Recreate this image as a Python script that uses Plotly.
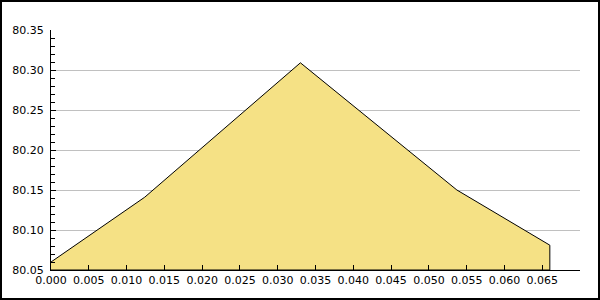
import plotly.graph_objects as go

x_vals = [0.0, 0.0124, 0.033, 0.0537, 0.066]
y_vals = [80.06, 80.141, 80.309, 80.15, 80.081]
x_range = [0.0, 0.06999]
y_range = [80.05, 80.35]

W, H = 600, 300
ML, MR, MT, MB = 51, 20, 30, 30
PW, PH = W - ML - MR, H - MT - MB

# closed polygon (area down to the x axis)
x_poly = x_vals + [x_vals[-1], x_vals[0]]
y_poly = y_vals + [y_range[0], y_range[0]]

fig = go.Figure()
fig.add_trace(go.Scatter(
    x=x_poly, y=y_poly, mode="lines", fill="toself",
    fillcolor="#F5E185", line=dict(color="black", width=1),
    hoverinfo="skip", showlegend=False,
))

font = dict(family="DejaVu Sans", size=11, color="black")
fig.update_layout(
    width=W, height=H,
    margin=dict(l=ML, r=MR, t=MT, b=MB, pad=0, autoexpand=False),
    paper_bgcolor="white", plot_bgcolor="white",
    font=font, showlegend=False,
    xaxis=dict(
        range=x_range, tick0=0, dtick=0.005, tickformat=".3f", automargin=False,
        showgrid=False, zeroline=False, showline=True, linecolor="black", linewidth=1,
        ticks="inside", ticklen=5, tickcolor="black", tickwidth=1,
        tickfont=font, fixedrange=True,
    ),
    yaxis=dict(
        range=y_range, tick0=80.05, dtick=0.05, tickformat=".2f", automargin=False,
        showgrid=True, gridcolor="#c0c0c0", gridwidth=1,
        zeroline=False, showline=True, linecolor="black", linewidth=1,
        ticks="inside", ticklen=5, tickcolor="black", tickwidth=1,
        minor=dict(dtick=0.01, ticks="inside", ticklen=4, tickcolor="black", showgrid=False),
        ticklabelstandoff=4,
        tickfont=font, fixedrange=True,
    ),
    shapes=[dict(
        type="rect", xref="paper", yref="paper",
        x0=(-ML + 1) / PW, x1=(PW + MR - 1) / PW,
        y0=(-MB + 1) / PH, y1=(PH + MT - 1) / PH,
        line=dict(color="black", width=2), fillcolor="rgba(0,0,0,0)", layer="above",
    )],
)

fig.write_html("out.html", config={"displayModeBar": False, "staticPlot": True})
